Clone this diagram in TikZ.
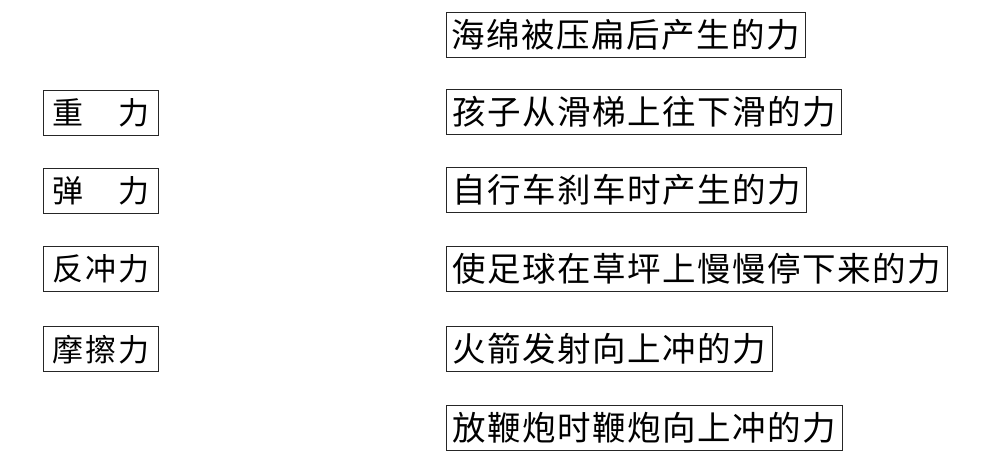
\documentclass[tikz,border=0pt]{standalone}
\usepackage{fontspec}
\newfontfamily\cjk{Noto Sans CJK SC}
\makeatletter
\newcommand\spreadchars[2]{\@tfor\sc@x:=#2\do{\makebox[#1]{\sc@x}}}
\makeatother
\tikzset{
  fbox/.style={draw=black!85, line width=1.3pt, inner sep=0pt, minimum height=45pt,
    anchor=north west, align=center},
  leftfont/.style={font=\cjk\fontsize{31}{31}\selectfont},
  rightfont/.style={font=\cjk\fontsize{33.5}{33.5}\selectfont}
}
\begin{document}
\begin{tikzpicture}[x=1pt,y=-1pt]
\useasboundingbox (0,0) rectangle (996,459);
% left column
\node[fbox,leftfont,minimum width=115pt] (zl) at (43,90) {\spreadchars{33pt}{重{}力}};
\node[fbox,leftfont,minimum width=115pt] (tl) at (43,168) {\spreadchars{33pt}{弹{}力}};
\node[fbox,leftfont,minimum width=115pt] (fc) at (43,246) {\spreadchars{33pt}{反冲力}};
\node[fbox,leftfont,minimum width=115pt] (mc) at (43,326) {\spreadchars{33pt}{摩擦力}};
% right column
\node[fbox,rightfont,minimum width=359pt] (r1) at (446,12) {\spreadchars{35pt}{海绵被压扁后产生的力}};
\node[fbox,rightfont,minimum width=395pt] (r2) at (446,89) {\spreadchars{35pt}{孩子从滑梯上往下滑的力}};
\node[fbox,rightfont,minimum width=360pt] (r3) at (446,167) {\spreadchars{35pt}{自行车刹车时产生的力}};
\node[fbox,rightfont,minimum width=501pt] (r4) at (446,246) {\spreadchars{35pt}{使足球在草坪上慢慢停下来的力}};
\node[fbox,rightfont,minimum width=326pt] (r5) at (446,326) {\spreadchars{35pt}{火箭发射向上冲的力}};
\node[fbox,rightfont,minimum width=396pt] (r6) at (446,405) {\spreadchars{35pt}{放鞭炮时鞭炮向上冲的力}};
\end{tikzpicture}
\end{document}
